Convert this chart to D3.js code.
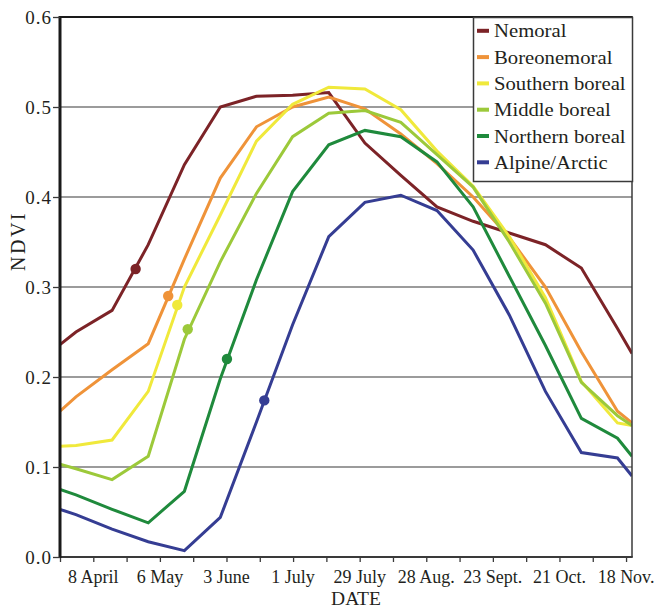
<!DOCTYPE html>
<html>
<head>
<meta charset="utf-8">
<script src="https://cdn.jsdelivr.net/npm/d3@7"></script>
<style>
  html, body { margin: 0; padding: 0; background: #fff; }
  svg { display: block; }
  text { font-family: "Liberation Serif", "Times New Roman", serif; fill: #231f20; }
</style>
</head>
<body>
<svg id="chart" width="655" height="609"></svg>
<script>
// ---- data (day of year of each semi-monthly composite; first/last at the axis edges) ----
const days = [84, 90.7, 105.9, 121.1, 136.3, 151.4, 166.6, 181.8, 197.0, 212.2, 227.3, 242.5, 257.7, 272.9, 288.1, 303.2, 318.4, 324.5];

const seriesNames = ["Nemoral", "Boreonemoral", "Southern boreal", "Middle boreal", "Northern boreal", "Alpine/Arctic"];

const nemoral        = [0.236, 0.250, 0.274, 0.347, 0.436, 0.500, 0.512, 0.513, 0.516, 0.460, 0.424, 0.389, 0.373, 0.360, 0.347, 0.321, 0.254, 0.226];
const boreonemoral   = [0.162, 0.178, 0.208, 0.237, 0.331, 0.421, 0.478, 0.500, 0.511, 0.498, 0.470, 0.437, 0.400, 0.355, 0.300, 0.228, 0.162, 0.149];
const southernBoreal = [0.123, 0.124, 0.130, 0.184, 0.300, 0.380, 0.462, 0.503, 0.522, 0.520, 0.497, 0.451, 0.412, 0.356, 0.288, 0.195, 0.149, 0.146];
const middleBoreal   = [0.103, 0.098, 0.086, 0.112, 0.242, 0.328, 0.404, 0.467, 0.493, 0.496, 0.483, 0.447, 0.411, 0.350, 0.282, 0.194, 0.157, 0.146];
const northernBoreal = [0.075, 0.069, 0.053, 0.038, 0.073, 0.198, 0.308, 0.406, 0.458, 0.474, 0.467, 0.439, 0.389, 0.312, 0.235, 0.154, 0.132, 0.112];
const alpineArctic   = [0.053, 0.047, 0.031, 0.017, 0.007, 0.044, 0.150, 0.258, 0.356, 0.394, 0.402, 0.385, 0.341, 0.269, 0.184, 0.116, 0.110, 0.090];

// start-of-season markers
const markerDays   = [115.8, 129.5, 133.3, 137.7, 154.2, 169.9];
const markerValues = [0.320, 0.290, 0.280, 0.253, 0.220, 0.174];

// x ticks every 14 days, labels on every other tick
const tickDays   = d3.range(0, 18).map(k => 84 + 14 * k);
const tickLabels = ["8 April", "6 May", "3 June", "1 July", "29 July", "28 Aug.", "23 Sept.", "21 Oct.", "18 Nov."];
const yTicks     = [0.0, 0.1, 0.2, 0.3, 0.4, 0.5, 0.6];

const colors = ["#7c2327", "#ef9339", "#f0e93b", "#9cc93a", "#1f8a3c", "#353d93"];

// ---- layout ----
const svg = d3.select("#chart");
const L = 60, R = 632, T = 17, B = 557;
const x = d3.scaleLinear().domain([84, 324.5]).range([L, R]);
const y = d3.scaleLinear().domain([0, 0.6]).range([B, T]);

const legend = { x: 473.5, y: 17.5, w: 159, h: 164 };

// gridlines (stop at legend where they meet it)
svg.append("g").selectAll("line").data(yTicks.filter(v => v > 0 && v < 0.6)).join("line")
  .attr("x1", L).attr("x2", v => (y(v) < legend.y + legend.h ? legend.x : R))
  .attr("y1", v => y(v)).attr("y2", v => y(v))
  .attr("stroke", "#7a7a7a").attr("stroke-width", 1.5);

// lines
const allSeries = [nemoral, boreonemoral, southernBoreal, middleBoreal, northernBoreal, alpineArctic];
const line = d3.line().x((d, i) => x(days[i])).y(d => y(d));
svg.append("defs").append("clipPath").attr("id", "clip")
  .append("rect").attr("x", L).attr("y", T).attr("width", R - L).attr("height", B - T);
const gl = svg.append("g").attr("clip-path", "url(#clip)");
allSeries.forEach((s, i) => {
  gl.append("path").datum(s).attr("d", line)
    .attr("fill", "none").attr("stroke", colors[i]).attr("stroke-width", 3)
    .attr("stroke-linejoin", "miter");
});
// markers
gl.selectAll("circle").data(markerDays).join("circle")
  .attr("cx", d => x(d)).attr("cy", (d, i) => y(markerValues[i]))
  .attr("r", 5.2).attr("fill", (d, i) => colors[i]);

// frame
svg.append("line").attr("x1", R).attr("x2", R).attr("y1", T).attr("y2", B)
  .attr("stroke", "#3a3a3a").attr("stroke-width", 1.5);
svg.append("line").attr("x1", L).attr("x2", R + 0.75).attr("y1", T).attr("y2", T)
  .attr("stroke", "#1a1a1a").attr("stroke-width", 2);

// x axis
const xAxis = svg.append("g").attr("transform", `translate(0,${B})`)
  .call(d3.axisBottom(x).tickValues(tickDays).tickSize(5).tickFormat(""));
xAxis.select(".domain").attr("stroke", "#3a3a3a").attr("stroke-width", 2).attr("d", `M${L},0H${R + 0.75}`);
xAxis.selectAll(".tick line").attr("stroke", "#3a3a3a").attr("stroke-width", 1.3);
svg.append("g").selectAll("text").data(tickLabels).join("text")
  .attr("x", (d, i) => x(tickDays[2 * i + 1])).attr("y", 583)
  .attr("text-anchor", "middle").attr("font-size", 18).text(d => d);

// y axis
const yAxis = svg.append("g").attr("transform", `translate(${L},0)`)
  .call(d3.axisLeft(y).tickValues(yTicks).tickSize(7).tickFormat(d3.format(".1f")));
yAxis.select(".domain").attr("stroke", "#1a1a1a").attr("stroke-width", 3).attr("d", `M0,${T - 1}V${B + 1}`);
yAxis.selectAll(".tick line").attr("stroke", "#3a3a3a").attr("stroke-width", 1.3);
yAxis.selectAll(".tick text").attr("font-size", 19).attr("x", -8)
  .style("font-family", '"Liberation Serif", serif').attr("fill", "#231f20")
  .attr("letter-spacing", "1px");

// axis titles
svg.append("text").attr("x", 356).attr("y", 605).attr("text-anchor", "middle")
  .attr("font-size", 19.5).text("DATE");
svg.append("text").attr("transform", "translate(25,241) rotate(-90)")
  .attr("text-anchor", "middle").attr("font-size", 20).attr("letter-spacing", "2.5px").text("NDVI");

// legend
const lg = svg.append("g");
lg.append("rect").attr("x", legend.x).attr("y", legend.y).attr("width", legend.w).attr("height", legend.h)
  .attr("fill", "#fff").attr("stroke", "#3a3a3a").attr("stroke-width", 1.5);
seriesNames.forEach((name, i) => {
  const by = 37.3 + 26.3 * i;
  lg.append("rect").attr("x", 477).attr("y", by - 8.5).attr("width", 12).attr("height", 4).attr("fill", colors[i]);
  lg.append("text").attr("transform", `translate(494,${by}) scale(1.09,1)`)
    .attr("font-size", 19).text(name);
});
</script>
</body>
</html>
